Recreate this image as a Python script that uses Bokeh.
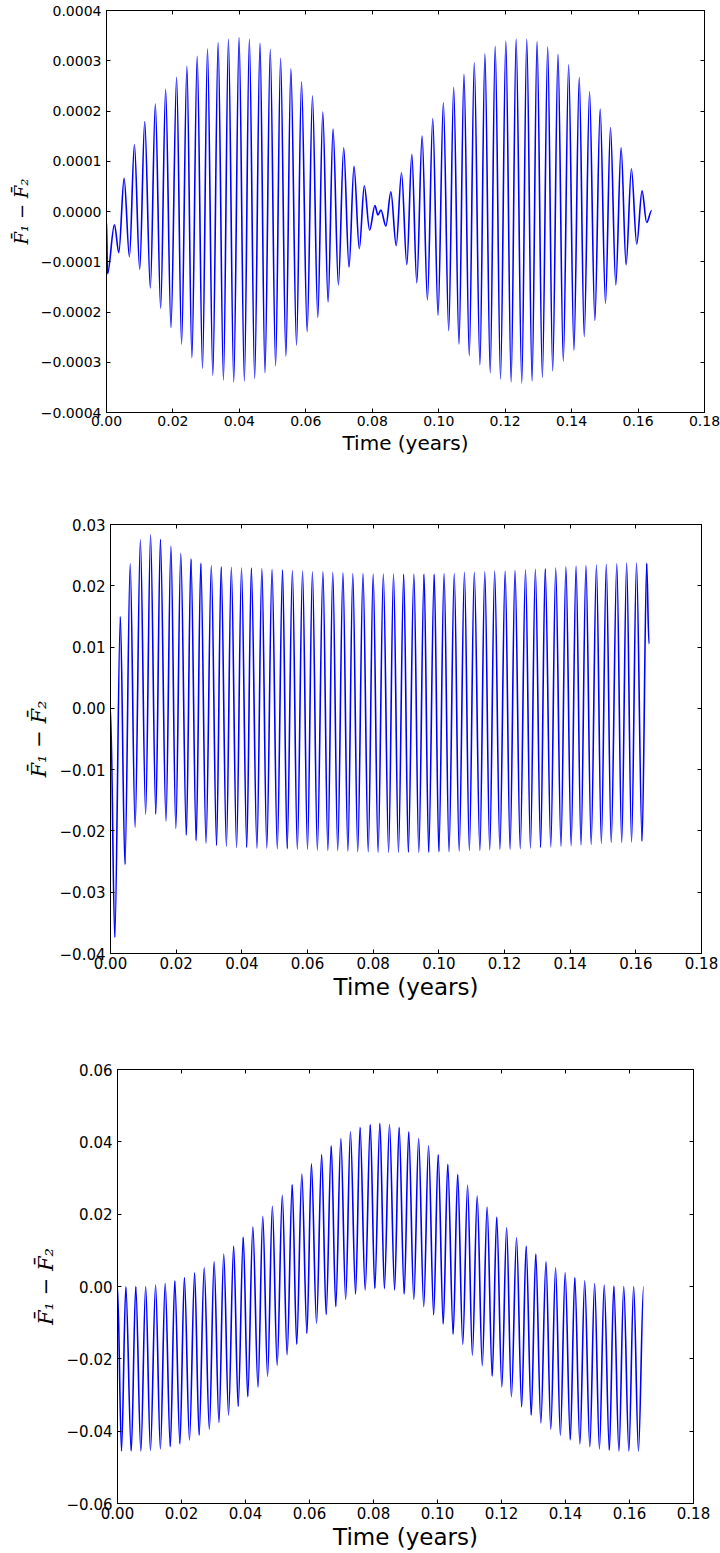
from bokeh.plotting import figure
from bokeh.models import Range1d, FixedTicker, LinearAxis
from bokeh.embed import file_html
from bokeh.resources import INLINE

# ---------------- data (extrema of each oscillation) -------------
x_ticks = [0.00, 0.02, 0.04, 0.06, 0.08, 0.10, 0.12, 0.14, 0.16, 0.18]
x_tick_labels = ["0.00", "0.02", "0.04", "0.06", "0.08", "0.10", "0.12", "0.14", "0.16", "0.18"]

y1_ticks = [-0.0004, -0.0003, -0.0002, -0.0001, 0.0, 0.0001, 0.0002, 0.0003, 0.0004]
y1_tick_labels = ["\u22120.0004", "\u22120.0003", "\u22120.0002", "\u22120.0001", "0.0000",
                  "0.0001", "0.0002", "0.0003", "0.0004"]
y2_ticks = [-0.04, -0.03, -0.02, -0.01, 0.0, 0.01, 0.02, 0.03]
y2_tick_labels = ["\u22120.04", "\u22120.03", "\u22120.02", "\u22120.01", "0.00", "0.01", "0.02", "0.03"]
y3_ticks = [-0.06, -0.04, -0.02, 0.0, 0.02, 0.04, 0.06]
y3_tick_labels = ["\u22120.06", "\u22120.04", "\u22120.02", "0.00", "0.02", "0.04", "0.06"]

t1 = [0.0000, 0.0003, 0.0024, 0.0037, 0.0053, 0.0069, 0.0084, 0.0100, 0.0115, 0.0132,
      0.0147, 0.0163, 0.0178, 0.0194, 0.0211, 0.0226, 0.0242, 0.0257, 0.0273, 0.0289,
      0.0304, 0.0320, 0.0336, 0.0352, 0.0367, 0.0383, 0.0399, 0.0415, 0.0430, 0.0446,
      0.0462, 0.0477, 0.0493, 0.0509, 0.0524, 0.0540, 0.0555, 0.0572, 0.0587, 0.0604,
      0.0620, 0.0636, 0.0651, 0.0667, 0.0682, 0.0698, 0.0714, 0.0730, 0.0745, 0.0761,
      0.0776, 0.0792, 0.0808, 0.0817, 0.0826, 0.0841, 0.0856, 0.0872, 0.0888, 0.0904,
      0.0919, 0.0934, 0.0950, 0.0966, 0.0982, 0.0998, 0.1014, 0.1030, 0.1045, 0.1061,
      0.1076, 0.1092, 0.1107, 0.1124, 0.1139, 0.1155, 0.1170, 0.1186, 0.1202, 0.1218,
      0.1233, 0.1250, 0.1265, 0.1281, 0.1296, 0.1312, 0.1328, 0.1343, 0.1359, 0.1375,
      0.1391, 0.1407, 0.1423, 0.1438, 0.1454, 0.1470, 0.1486, 0.1502, 0.1517, 0.1533,
      0.1549, 0.1564, 0.1580, 0.1596, 0.1612, 0.1626, 0.1641]
v1 = [-0.000018, -0.000124, -0.000026, -0.000082, 0.000066, -0.000090, 0.000133, -0.000115, 0.000179, -0.000152,
      0.000214, -0.000193, 0.000243, -0.000231, 0.000267, -0.000264, 0.000289, -0.000291, 0.000309, -0.000312,
      0.000324, -0.000326, 0.000336, -0.000335, 0.000343, -0.000339, 0.000346, -0.000337, 0.000343, -0.000332,
      0.000335, -0.000321, 0.000323, -0.000307, 0.000305, -0.000288, 0.000284, -0.000266, 0.000258, -0.000239,
      0.000230, -0.000211, 0.000198, -0.000180, 0.000164, -0.000146, 0.000127, -0.000111, 0.000090, -0.000074,
      0.000051, -0.000037, 0.000012, -0.000007, 0.000003, -0.000029, 0.000039, -0.000068, 0.000077, -0.000106,
      0.000114, -0.000142, 0.000150, -0.000176, 0.000185, -0.000207, 0.000217, -0.000237, 0.000247, -0.000264,
      0.000273, -0.000287, 0.000296, -0.000305, 0.000314, -0.000321, 0.000329, -0.000333, 0.000339, -0.000339,
      0.000343, -0.000341, 0.000343, -0.000337, 0.000338, -0.000330, 0.000328, -0.000317, 0.000313, -0.000298,
      0.000292, -0.000276, 0.000267, -0.000249, 0.000238, -0.000217, 0.000204, -0.000183, 0.000167, -0.000146,
      0.000127, -0.000106, 0.000085, -0.000065, 0.000041, -0.000022, 0.000002]

t2 = [0.0000, 0.0013, 0.0030, 0.0044, 0.0060, 0.0075, 0.0091, 0.0107, 0.0122, 0.0138,
      0.0152, 0.0169, 0.0184, 0.0199, 0.0214, 0.0231, 0.0245, 0.0261, 0.0275, 0.0291,
      0.0307, 0.0323, 0.0337, 0.0353, 0.0368, 0.0384, 0.0399, 0.0415, 0.0429, 0.0446,
      0.0461, 0.0476, 0.0492, 0.0508, 0.0524, 0.0538, 0.0554, 0.0569, 0.0585, 0.0600,
      0.0615, 0.0630, 0.0647, 0.0662, 0.0677, 0.0692, 0.0708, 0.0723, 0.0738, 0.0753,
      0.0769, 0.0785, 0.0800, 0.0815, 0.0831, 0.0847, 0.0862, 0.0877, 0.0893, 0.0907,
      0.0924, 0.0939, 0.0955, 0.0969, 0.0986, 0.1000, 0.1016, 0.1031, 0.1047, 0.1062,
      0.1078, 0.1093, 0.1108, 0.1125, 0.1140, 0.1155, 0.1170, 0.1186, 0.1202, 0.1217,
      0.1232, 0.1248, 0.1264, 0.1279, 0.1294, 0.1310, 0.1324, 0.1341, 0.1356, 0.1372,
      0.1387, 0.1403, 0.1418, 0.1433, 0.1448, 0.1464, 0.1480, 0.1495, 0.1510, 0.1525,
      0.1542, 0.1557, 0.1572, 0.1587, 0.1602, 0.1619, 0.1633, 0.1640]
v2 = [0.0000, -0.0374, 0.0150, -0.0255, 0.0236, -0.0194, 0.0275, -0.0173, 0.0283, -0.0173,
      0.0276, -0.0184, 0.0265, -0.0196, 0.0253, -0.0207, 0.0244, -0.0216, 0.0237, -0.0220,
      0.0233, -0.0224, 0.0231, -0.0225, 0.0230, -0.0227, 0.0229, -0.0227, 0.0229, -0.0228,
      0.0228, -0.0228, 0.0227, -0.0229, 0.0226, -0.0229, 0.0225, -0.0230, 0.0224, -0.0230,
      0.0223, -0.0231, 0.0223, -0.0232, 0.0222, -0.0232, 0.0221, -0.0233, 0.0220, -0.0234,
      0.0220, -0.0234, 0.0219, -0.0235, 0.0219, -0.0235, 0.0219, -0.0235, 0.0219, -0.0235,
      0.0219, -0.0235, 0.0219, -0.0235, 0.0219, -0.0234, 0.0220, -0.0234, 0.0220, -0.0233,
      0.0222, -0.0232, 0.0222, -0.0232, 0.0223, -0.0231, 0.0224, -0.0230, 0.0224, -0.0230,
      0.0225, -0.0229, 0.0226, -0.0228, 0.0227, -0.0227, 0.0228, -0.0226, 0.0229, -0.0225,
      0.0231, -0.0224, 0.0232, -0.0223, 0.0233, -0.0222, 0.0234, -0.0220, 0.0235, -0.0219,
      0.0236, -0.0219, 0.0237, -0.0218, 0.0237, -0.0217, 0.0237, 0.0105]

t3 = [0.0000, 0.00125, 0.0026, 0.0043, 0.0057, 0.0073, 0.0088, 0.0103, 0.0119, 0.0134,
      0.0149, 0.0165, 0.0179, 0.0195, 0.0209, 0.0225, 0.0241, 0.0255, 0.0271, 0.0287,
      0.0302, 0.0317, 0.0332, 0.0347, 0.0363, 0.0377, 0.0393, 0.0407, 0.0423, 0.0439,
      0.0454, 0.0469, 0.0484, 0.0499, 0.0515, 0.0530, 0.0546, 0.0560, 0.0576, 0.0592,
      0.0606, 0.0622, 0.0638, 0.0652, 0.0668, 0.0682, 0.0698, 0.0713, 0.0728, 0.0744,
      0.0758, 0.0774, 0.0790, 0.0804, 0.0820, 0.0834, 0.0850, 0.0866, 0.0880, 0.0896,
      0.0910, 0.0926, 0.0941, 0.0957, 0.0972, 0.0988, 0.1002, 0.1018, 0.1032, 0.1049,
      0.1063, 0.1079, 0.1094, 0.1109, 0.1124, 0.1140, 0.1155, 0.1171, 0.1185, 0.1201,
      0.1216, 0.1231, 0.1247, 0.1263, 0.1277, 0.1293, 0.1307, 0.1323, 0.1339, 0.1354,
      0.1369, 0.1384, 0.1399, 0.1415, 0.1429, 0.1445, 0.1460, 0.1476, 0.1491, 0.1506,
      0.1521, 0.1537, 0.1551, 0.1567, 0.1582, 0.1598, 0.1613, 0.1628, 0.1644]
v3 = [0.0000, -0.0455, -0.0001, -0.0455, 0.0000, -0.0455, 0.0000, -0.0453, 0.0004, -0.0449,
      0.0008, -0.0443, 0.0016, -0.0435, 0.0025, -0.0424, 0.0038, -0.0411, 0.0052, -0.0395,
      0.0069, -0.0376, 0.0090, -0.0355, 0.0112, -0.0332, 0.0137, -0.0305, 0.0165, -0.0278,
      0.0194, -0.0248, 0.0222, -0.0218, 0.0252, -0.0189, 0.0282, -0.0160, 0.0311, -0.0130,
      0.0339, -0.0102, 0.0365, -0.0078, 0.0389, -0.0056, 0.0409, -0.0036, 0.0428, -0.0021,
      0.0440, -0.0010, 0.0448, -0.0006, 0.0451, -0.0006, 0.0448, -0.0010, 0.0440, -0.0021,
      0.0428, -0.0036, 0.0409, -0.0056, 0.0389, -0.0079, 0.0365, -0.0104, 0.0338, -0.0132,
      0.0310, -0.0160, 0.0280, -0.0190, 0.0250, -0.0219, 0.0220, -0.0248, 0.0192, -0.0278,
      0.0163, -0.0305, 0.0135, -0.0333, 0.0112, -0.0356, 0.0090, -0.0377, 0.0069, -0.0395,
      0.0052, -0.0411, 0.0038, -0.0424, 0.0025, -0.0435, 0.0016, -0.0443, 0.0008, -0.0449,
      0.0004, -0.0453, 0.0001, -0.0455, 0.0000, -0.0455, 0.0000, -0.0455, 0.0000]

x_label = "Time (years)"
y_label = "F\u0304\u2081 \u2212 F\u0304\u2082"


def smooth_curve(p, t, v, color, width):
    # each stretch between two successive extremes is drawn as a bezier with flat ends
    x0, x1 = t[:-1], t[1:]
    y0, y1 = v[:-1], v[1:]
    cx0 = [a + (b - a) / 3.0 for a, b in zip(x0, x1)]
    cx1 = [b - (b - a) / 3.0 for a, b in zip(x0, x1)]
    p.bezier(x0=x0, y0=y0, x1=x1, y1=y1, cx0=cx0, cy0=y0, cx1=cx1, cy1=y1,
             line_color=color, line_width=width)


def panel(t, v, y_ticks, y_tick_labels, width, height, borders, tick_size, xlab_size, ylab_size):
    top, bottom, left, right = borders
    p = figure(width=width, height=height, output_backend="svg", toolbar_location=None,
               x_range=Range1d(0.0, 0.18), y_range=Range1d(y_ticks[0], y_ticks[-1]),
               min_border_top=top, min_border_bottom=bottom,
               min_border_left=left, min_border_right=right,
               background_fill_color="white", border_fill_color="white")
    p.xgrid.visible = False
    p.ygrid.visible = False
    p.outline_line_color = "black"
    p.outline_line_width = 1
    p.outline_line_alpha = 1.0

    xt = FixedTicker(ticks=x_ticks)
    yt = FixedTicker(ticks=y_ticks)
    xo = {tv: lab for tv, lab in zip(x_ticks, x_tick_labels)}
    yo = {tv: lab for tv, lab in zip(y_ticks, y_tick_labels)}

    for ax, tk, ov in ((p.xaxis[0], xt, xo), (p.yaxis[0], yt, yo)):
        ax.ticker = tk
        ax.major_label_overrides = ov
        ax.major_tick_in = 4
        ax.major_tick_out = 0
        ax.minor_tick_line_color = None
        ax.axis_line_color = "black"
        ax.major_tick_line_color = "black"
        ax.major_label_text_font = "DejaVu Sans"
        ax.major_label_text_font_size = f"{tick_size}px"
        ax.major_label_text_color = "black"

    p.xaxis[0].major_label_standoff = 3
    p.yaxis[0].major_label_standoff = 5
    p.xaxis[0].axis_label = x_label
    p.xaxis[0].axis_label_text_font = "DejaVu Sans"
    p.xaxis[0].axis_label_text_font_style = "normal"
    p.xaxis[0].axis_label_text_font_size = f"{xlab_size}px"
    p.xaxis[0].axis_label_text_color = "black"
    p.xaxis[0].axis_label_standoff = 2

    p.yaxis[0].axis_label = y_label
    p.yaxis[0].axis_label_text_font = "DejaVu Serif"
    p.yaxis[0].axis_label_text_font_style = "italic"
    p.yaxis[0].axis_label_text_font_size = f"{ylab_size}px"
    p.yaxis[0].axis_label_text_color = "black"
    p.yaxis[0].axis_label_standoff = 6

    # mirrored tick marks on the top and right sides (no labels)
    for loc, tk, ticks in (("above", xt, x_ticks), ("right", yt, y_ticks)):
        ax = LinearAxis(ticker=tk, major_tick_in=4, major_tick_out=0,
                        minor_tick_line_color=None, axis_line_color="black",
                        major_label_overrides={tv: "" for tv in ticks},
                        major_label_text_font_size="1px", major_label_standoff=0)
        p.add_layout(ax, loc)

    smooth_curve(p, t, v, "#0000ff", 1.6)
    return p


p1 = panel(t1, v1, y1_ticks, y1_tick_labels, 720, 495, (10, 83, 106, 16), 14, 20, 18)
p2 = panel(t2, v2, y2_ticks, y2_tick_labels, 720, 550, (29, 92, 110, 19), 15, 23, 21)
p3 = panel(t3, v3, y3_ticks, y3_tick_labels, 720, 507, (24, 49, 117, 27), 15, 23, 21)

open("out.html", "w").write(file_html([p1, p2, p3], INLINE))
